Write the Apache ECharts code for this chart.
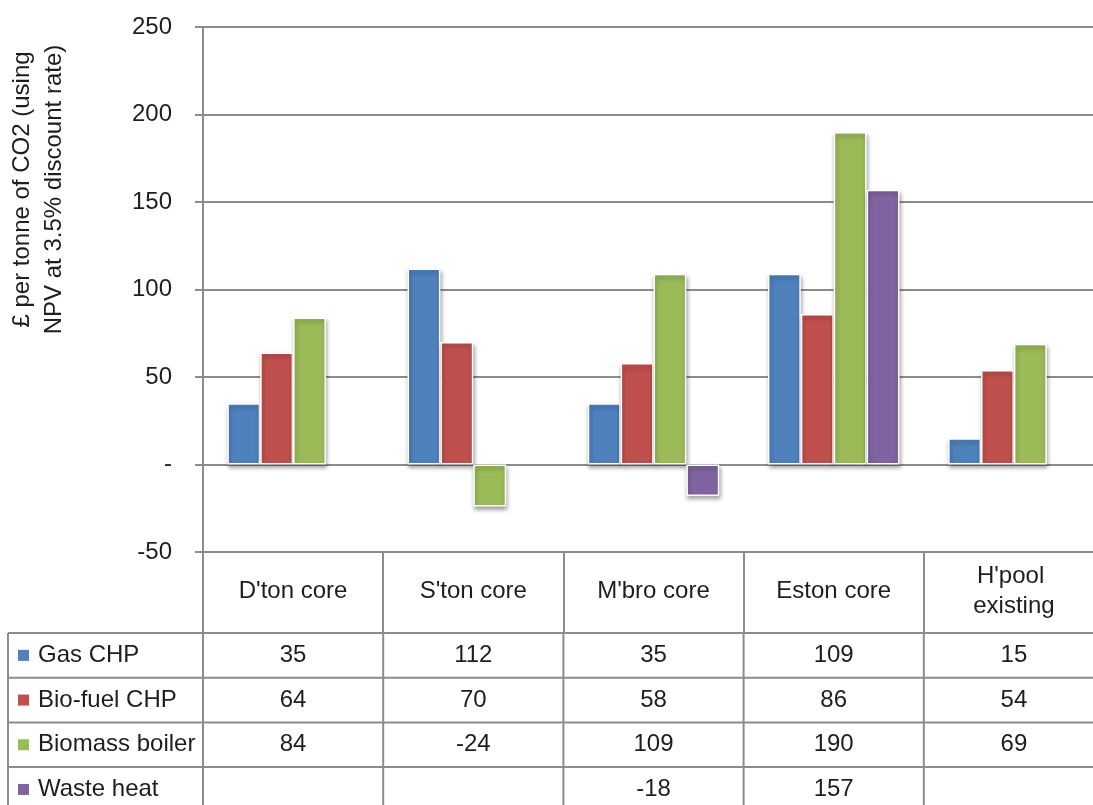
<!DOCTYPE html>
<html>
<head>
<meta charset="utf-8">
<script src="https://cdn.jsdelivr.net/npm/echarts@6/dist/echarts.min.js"></script>
<style>
  html, body { margin: 0; padding: 0; background: #ffffff; }
  #chart { width: 1093px; height: 805px; }
</style>
</head>
<body>
<div id="chart"></div>
<script>
// Cost per tonne of CO2 by heat network area and technology
const categories = ["D'ton core", "S'ton core", "M'bro core", "Eston core", "H'pool existing"];
const seriesNames = ['Gas CHP', 'Bio-fuel CHP', 'Biomass boiler', 'Waste heat'];
const gasChp = [35, 112, 35, 109, 15];
const bioFuelChp = [64, 70, 58, 86, 54];
const biomassBoiler = [84, -24, 109, 190, 69];
const wasteHeat = [null, null, -18, 157, null];
const yMin = -50;
const yMax = 250;
const yStep = 50;
const yAxisTitle = '£ per tonne of CO2 (using\nNPV at 3.5% discount rate)';

const seriesValues = [gasChp, bioFuelChp, biomassBoiler, wasteHeat];
const palette = ['#4F81BD', '#C0504D', '#9BBB59', '#8064A2'];
const FONT = '"Liberation Sans", Arial, sans-serif';
const TEXT = '#1e1e1e';
const LINE = '#8c8c8c';

const chart = echarts.init(document.getElementById('chart'), null, { renderer: 'canvas' });

chart.setOption({
  animation: false,
  backgroundColor: '#ffffff',
  textStyle: { fontFamily: FONT },
  grid: { left: 203, top: 27, width: 901, bottom: 253, containLabel: false, outerBoundsMode: 'none' },
  xAxis: {
    type: 'category',
    data: categories,
    axisLine: { show: true, onZero: false, lineStyle: { color: LINE, width: 2 } },
    axisTick: { show: true, length: 81, lineStyle: { color: LINE, width: 2 } },
    axisLabel: {
      color: TEXT, fontSize: 24, fontFamily: FONT,
      margin: 39, verticalAlign: 'middle', lineHeight: 30,
      width: 150, overflow: 'break', interval: 0
    },
    splitLine: { show: false }
  },
  yAxis: {
    type: 'value',
    min: yMin, max: yMax, interval: yStep,
    name: yAxisTitle,
    nameLocation: 'middle',
    nameGap: 133,
    nameRotate: 90,
    nameTextStyle: { color: TEXT, fontSize: 24, fontFamily: FONT, lineHeight: 32, align: 'center', padding: [0, 0, 0, 200] },
    axisLine: { show: true, lineStyle: { color: LINE, width: 2 } },
    axisTick: { show: true, length: 8, lineStyle: { color: LINE, width: 2 } },
    axisLabel: {
      color: TEXT, fontSize: 24, fontFamily: FONT, margin: 31,
      formatter: v => (v === 0 ? '-' : String(v))
    },
    splitLine: { show: true, lineStyle: { color: LINE, width: 2 } }
  },
  series: seriesNames.map((name, i) => ({
    name,
    type: 'bar',
    data: seriesValues[i],
    barGap: '0%',
    barCategoryGap: '27%',
    itemStyle: {
      color: palette[i],
      borderColor: '#ffffff',
      borderWidth: 1.5,
      shadowColor: 'rgba(0,0,0,0.35)',
      shadowBlur: 4,
      shadowOffsetX: 1,
      shadowOffsetY: 3
    }
  }))
});

// Data table underneath the plot, aligned with the category columns
function drawTable() {
  const c0 = chart.convertToPixel({ xAxisIndex: 0 }, categories[0]);
  const c1 = chart.convertToPixel({ xAxisIndex: 0 }, categories[1]);
  const band = c1 - c0;
  const colLeft = c0 - band / 2;
  const tableTop = chart.convertToPixel({ yAxisIndex: 0 }, yMin);
  const headerH = 81;
  const rowH = 44.7;
  const rowsTop = tableTop + headerH;
  const tableLeft = 8;
  const W = chart.getWidth();
  const H = chart.getHeight();
  const g = [];
  const line = (x1, y1, x2, y2) => g.push({
    type: 'line', silent: true,
    shape: { x1, y1, x2, y2 },
    style: { stroke: LINE, lineWidth: 2 }
  });

  // horizontal rules
  for (let r = 0; r < seriesNames.length; r++) {
    line(tableLeft, rowsTop + r * rowH, W, rowsTop + r * rowH);
  }
  // vertical rules
  line(tableLeft, rowsTop, tableLeft, H);
  for (let k = 0; k <= categories.length; k++) {
    const x = colLeft + k * band;
    line(x, rowsTop, x, H);
  }
  line(colLeft, tableTop, colLeft, rowsTop);

  seriesNames.forEach((name, r) => {
    const cy = rowsTop + r * rowH + rowH / 2;
    g.push({
      type: 'rect', silent: true,
      shape: { x: 18, y: cy - 5.5, width: 11, height: 11 },
      style: { fill: palette[r] }
    });
    g.push({
      type: 'text', silent: true,
      style: { x: 38, y: cy, text: name, fill: TEXT, font: '24px ' + FONT, textAlign: 'left', textVerticalAlign: 'middle' }
    });
    seriesValues[r].forEach((v, k) => {
      if (v === null) return;
      g.push({
        type: 'text', silent: true,
        style: {
          x: colLeft + k * band + band / 2, y: cy,
          text: String(v), fill: TEXT, font: '24px ' + FONT,
          textAlign: 'center', textVerticalAlign: 'middle'
        }
      });
    });
  });

  chart.setOption({ graphic: { elements: g } });
}

drawTable();
</script>
</body>
</html>
